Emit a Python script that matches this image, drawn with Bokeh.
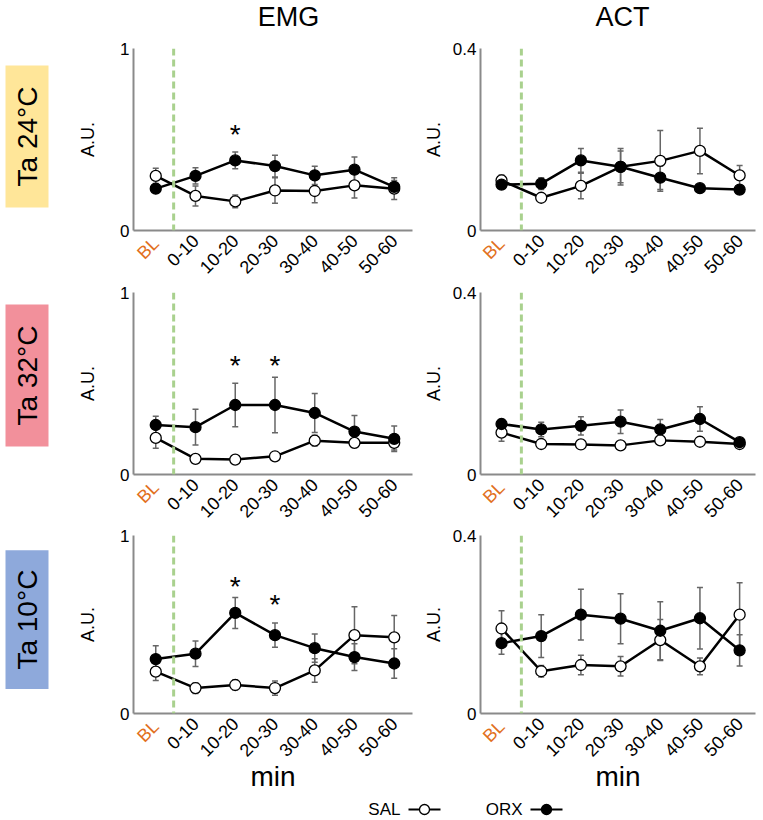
import numpy as np
from bokeh.plotting import figure
from bokeh.models import Range1d, FixedTicker, Span, LinearAxis
from bokeh.layouts import column, row
from bokeh.embed import file_html
from bokeh.resources import INLINE
from bokeh.core.properties import value

FONT = "Liberation Sans"

# ---------------- data ----------------
periods = ["BL", "0-10", "10-20", "20-30", "30-40", "40-50", "50-60"]
x_pos = [0, 1, 2, 3, 4, 5, 6]

columns = ["EMG", "ACT"]
rows_labels = ["Ta 24°C", "Ta 32°C", "Ta 10°C"]
row_colors = ["#FFE699", "#F2909B", "#8EA9DB"]

emg_ymax = 1.0
emg_ytick_labels = ["0", "1"]
act_ymax = 0.4
act_ytick_labels = ["0", "0.4"]

# Ta 24°C
emg24_sal = [0.30, 0.19, 0.16, 0.22, 0.217, 0.248, 0.23]
emg24_sal_err = [0.042, 0.055, 0.035, 0.07, 0.065, 0.07, 0.06]
emg24_orx = [0.23, 0.30, 0.385, 0.354, 0.303, 0.334, 0.24]
emg24_orx_err = [0.02, 0.045, 0.046, 0.06, 0.05, 0.07, 0.035]
act24_sal = [0.110, 0.072, 0.098, 0.140, 0.153, 0.175, 0.121]
act24_sal_err = [0.012, 0.004, 0.028, 0.035, 0.067, 0.05, 0.022]
act24_orx = [0.101, 0.103, 0.154, 0.140, 0.116, 0.093, 0.090]
act24_orx_err = [0.008, 0.013, 0.026, 0.04, 0.026, 0.004, 0.004]

# Ta 32°C
emg32_sal = [0.201, 0.086, 0.082, 0.10, 0.186, 0.174, 0.174]
emg32_sal_err = [0.057, 0.005, 0.005, 0.02, 0.03, 0.02, 0.04]
emg32_orx = [0.272, 0.26, 0.382, 0.382, 0.338, 0.236, 0.196]
emg32_orx_err = [0.048, 0.098, 0.119, 0.153, 0.107, 0.088, 0.07]
act32_sal = [0.092, 0.067, 0.066, 0.064, 0.075, 0.072, 0.067]
act32_sal_err = [0.019, 0.003, 0.003, 0.003, 0.003, 0.003, 0.003]
act32_orx = [0.111, 0.099, 0.107, 0.116, 0.099, 0.122, 0.071]
act32_orx_err = [0.01, 0.016, 0.02, 0.026, 0.022, 0.027, 0.004]

# Ta 10°C
emg10_sal = [0.235, 0.143, 0.16, 0.143, 0.242, 0.44, 0.428]
emg10_sal_err = [0.05, 0.03, 0.028, 0.04, 0.066, 0.16, 0.123]
emg10_orx = [0.306, 0.336, 0.565, 0.44, 0.367, 0.317, 0.281]
emg10_orx_err = [0.075, 0.072, 0.087, 0.068, 0.079, 0.075, 0.083]
act10_sal = [0.191, 0.095, 0.109, 0.106, 0.165, 0.106, 0.222]
act10_sal_err = [0.04, 0.013, 0.022, 0.022, 0.046, 0.019, 0.072]
act10_orx = [0.158, 0.174, 0.222, 0.213, 0.186, 0.214, 0.142]
act10_orx_err = [0.025, 0.048, 0.057, 0.056, 0.065, 0.069, 0.035]

# significance markers (x index, y position)
stars24_x = [2]
stars24_y = [0.527]
stars32_x = [2, 3]
stars32_y = [0.60, 0.60]
stars10_x = [2, 3]
stars10_y = [0.714, 0.615]

legend_names = ["SAL", "ORX"]

# ---------------- style ----------------
AXIS_GRAY = "#8a8a8a"
ERR_GRAY = "#666666"
GREEN = "#A9D18E"
ORANGE = "#E2711D"
TICK_FS = "18px"
BL_STANDOFF = 10
BL_EXTENT = 40  # approx. size of the BL axis panel, so the other labels line up
FRAME_H = 182


def style_axis(ax):
    ax.major_tick_line_color = None
    ax.minor_tick_line_color = None
    ax.major_tick_out = 0
    ax.major_tick_in = 0
    ax.minor_tick_out = 0
    ax.minor_tick_in = 0
    ax.major_label_text_font = FONT
    ax.major_label_text_color = "black"
    ax.major_label_standoff = 4


def panel(width, bl, br, height, bt, bb, ymax, ytick_labels, xr, green_x,
          sal, sal_err, orx, orx_err, stars_x, stars_y, au_standoff, show_min):
    p = figure(width=width, height=height, x_range=Range1d(*xr), y_range=Range1d(0, ymax),
               output_backend="svg", toolbar_location=None, x_axis_location=None,
               min_border_left=bl, min_border_right=br, min_border_top=bt, min_border_bottom=bb)
    p.grid.visible = False
    p.outline_line_color = None
    p.background_fill_color = "white"

    # BL label (orange) on its own axis, closest to the frame; carries the axis line
    bl_ax = LinearAxis(ticker=FixedTicker(ticks=[x_pos[0]]),
                       major_label_overrides={x_pos[0]: periods[0]})
    style_axis(bl_ax)
    bl_ax.axis_line_color = AXIS_GRAY
    bl_ax.axis_line_width = 2
    bl_ax.major_label_orientation = np.pi / 4
    bl_ax.major_label_text_color = ORANGE
    bl_ax.major_label_text_font_size = TICK_FS
    bl_ax.major_label_standoff = BL_STANDOFF
    p.add_layout(bl_ax, "below")

    # time-bin labels
    main_ax = LinearAxis(ticker=FixedTicker(ticks=x_pos[1:]),
                         major_label_overrides={i: periods[i] for i in x_pos[1:]})
    style_axis(main_ax)
    main_ax.axis_line_color = None
    main_ax.major_label_orientation = np.pi / 4
    main_ax.major_label_text_font_size = TICK_FS
    main_ax.major_label_standoff = 4 - BL_EXTENT
    if show_min:
        main_ax.axis_label = "min"
        main_ax.axis_label_text_font = FONT
        main_ax.axis_label_text_font_size = "28px"
        main_ax.axis_label_text_font_style = "normal"
        main_ax.axis_label_text_color = "black"
        main_ax.axis_label_standoff = -4
    p.add_layout(main_ax, "below")

    yax = p.yaxis[0]
    yax.ticker = FixedTicker(ticks=[0, ymax])
    yax.major_label_overrides = {0: ytick_labels[0], ymax: ytick_labels[1]}
    style_axis(yax)
    yax.axis_line_color = AXIS_GRAY
    yax.axis_line_width = 2
    yax.major_label_text_font_size = "17px"
    yax.axis_label = "A.U."
    yax.axis_label_text_font = FONT
    yax.axis_label_text_font_size = "18px"
    yax.axis_label_text_font_style = "normal"
    yax.axis_label_text_color = "black"
    yax.axis_label_standoff = au_standoff

    p.add_layout(Span(location=green_x, dimension="height", line_color=GREEN,
                      line_dash="7 4", line_width=3))

    for vals, errs in ((sal, sal_err), (orx, orx_err)):
        lo = [v - e for v, e in zip(vals, errs)]
        hi = [v + e for v, e in zip(vals, errs)]
        p.segment(x0=x_pos, y0=lo, x1=x_pos, y1=hi, line_color=ERR_GRAY, line_width=1.5)
        p.scatter(x=x_pos, y=hi, marker="dash", size=6, line_color=ERR_GRAY, line_width=1.5)
        p.scatter(x=x_pos, y=lo, marker="dash", size=6, line_color=ERR_GRAY, line_width=1.5)

    p.line(x=x_pos, y=sal, line_color="black", line_width=2.5)
    p.line(x=x_pos, y=orx, line_color="black", line_width=2.5)
    p.scatter(x=x_pos, y=sal, size=11, fill_color="white", line_color="black", line_width=1.3)
    p.scatter(x=x_pos, y=orx, size=11, fill_color="black", line_color="black", line_width=1.3)

    if stars_x:
        p.text(x=stars_x, y=stars_y, text=["*"] * len(stars_x), text_align="center",
               text_baseline="middle", text_font=value(FONT), text_font_size="28px",
               text_color="black")
    return p


def blank(width, height, bt=0, bb=0, yr=None):
    f = figure(width=width, height=height, x_range=Range1d(0, width),
               y_range=Range1d(0, height if yr is None else yr),
               output_backend="svg", toolbar_location=None, min_border=0,
               min_border_top=bt, min_border_bottom=bb,
               x_axis_location=None, y_axis_location=None)
    f.grid.visible = False
    f.outline_line_color = None
    return f


def row_label(height, bt, bb, text, color, b0, b1):
    # y coordinates are pixels above the bottom of the (shared-height) plot frame
    f = blank(60, height, bt, bb, FRAME_H)
    f.quad(left=5, right=48, bottom=b0, top=b1, fill_color=color, line_color=None)
    f.text(x=[27], y=[(b0 + b1) / 2], text=[text], angle=np.pi / 2,
           text_align="center", text_baseline="middle", text_font=value(FONT),
           text_font_size="28px", text_color="black")
    return f


EMG_XR = (-0.56, 6.46)
ACT_XR = (-0.53, 6.40)
EMG_GREEN = 0.45
ACT_GREEN = 0.50

# header with column titles
hdr = blank(760, 36)
hdr.text(x=[288, 622], y=[20, 20], text=columns, text_align="center", text_baseline="middle",
         text_font=value(FONT), text_font_size="27px", text_color="black")

data = [
    (emg24_sal, emg24_sal_err, emg24_orx, emg24_orx_err, act24_sal, act24_sal_err, act24_orx, act24_orx_err, stars24_x, stars24_y),
    (emg32_sal, emg32_sal_err, emg32_orx, emg32_orx_err, act32_sal, act32_sal_err, act32_orx, act32_orx_err, stars32_x, stars32_y),
    (emg10_sal, emg10_sal_err, emg10_orx, emg10_orx_err, act10_sal, act10_sal_err, act10_orx, act10_orx_err, stars10_x, stars10_y),
]
geom = [  # height, top border, bottom border, box bottom / top (px above frame bottom)
    (246, 12, 52, 23, 165),
    (244, 10, 52, 28, 170),
    (269, 9, 78, 25, 167),
]

rows = [hdr]
for i, (d, g) in enumerate(zip(data, geom)):
    h, bt, bb, b0, b1 = g
    lab = row_label(h, bt, bb, rows_labels[i], row_colors[i], b0, b1)
    emg = panel(360, 73, 8, h, bt, bb, emg_ymax, emg_ytick_labels, EMG_XR, EMG_GREEN,
                d[0], d[1], d[2], d[3], d[8], d[9], 19, i == 2)
    act = panel(340, 58, 5, h, bt, bb, act_ymax, act_ytick_labels, ACT_XR, ACT_GREEN,
                d[4], d[5], d[6], d[7], [], [], 6, i == 2)
    rows.append(row(lab, emg, act))

# legend strip
leg = blank(760, 24)
leg.text(x=[400, 522], y=[10, 10], text=legend_names, text_align="right", text_baseline="middle",
         text_font=value(FONT), text_font_size="17px", text_color="black")
leg.segment(x0=[408, 530], y0=[10, 10], x1=[440, 562], y1=[10, 10], line_color="black", line_width=2)
leg.scatter(x=[424], y=[10], size=10, fill_color="white", line_color="black", line_width=1.3)
leg.scatter(x=[546], y=[10], size=10, fill_color="black", line_color="black", line_width=1.3)
rows.append(leg)

layout = column(*rows)
open("out.html", "w").write(file_html(layout, INLINE))
